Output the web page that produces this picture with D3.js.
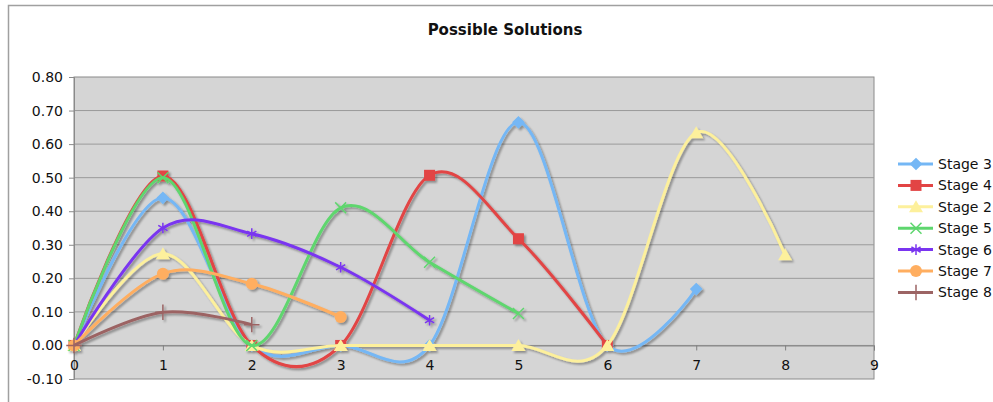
<!DOCTYPE html>
<html>
<head>
<meta charset="utf-8">
<script src="https://cdn.jsdelivr.net/npm/d3@7"></script>
<style>
 body { margin:0; background:#ffffff; }
 text { font-family:"DejaVu Sans", Verdana, sans-serif; fill:#111; }
</style>
</head>
<body>
<script>
 // chart data
 var title = "Possible Solutions";
 var yTicks = [-0.10, 0.00, 0.10, 0.20, 0.30, 0.40, 0.50, 0.60, 0.70, 0.80];
 var xTicks = [0, 1, 2, 3, 4, 5, 6, 7, 8, 9];

 var stage3 = [0, 0.44, 0, 0, 0, 0.665, 0, 0.168];
 var stage4 = [0, 0.505, 0, 0, 0.507, 0.318, 0];
 var stage2 = [0, 0.273, 0, 0, 0, 0, 0, 0.634, 0.27];
 var stage5 = [0, 0.50, 0, 0.41, 0.248, 0.095];
 var stage6 = [0, 0.35, 0.333, 0.233, 0.075];
 var stage7 = [0, 0.214, 0.184, 0.085];
 var stage8 = [0, 0.099, 0.062];

 var series = [
   {name:"Stage 3", values:stage3, color:"#74b7f5", marker:"diamond"},
   {name:"Stage 4", values:stage4, color:"#e24444", marker:"square"},
   {name:"Stage 2", values:stage2, color:"#fdf09c", marker:"triangle"},
   {name:"Stage 5", values:stage5, color:"#5ed66e", marker:"x"},
   {name:"Stage 6", values:stage6, color:"#7a35f0", marker:"asterisk"},
   {name:"Stage 7", values:stage7, color:"#ffae60", marker:"circle"},
   {name:"Stage 8", values:stage8, color:"#9c6464", marker:"plus"}
 ];

 var W = 993, H = 402;
 var plotL = 74, plotR = 874, plotT = 77, plotB = 379;

 var svg = d3.select("body").append("svg")
             .attr("width", W)
             .attr("height", H);

 // soft grey drop shadow like the original lines
 var f = svg.append("defs").append("filter")
     .attr("id", "shadow")
     .attr("x", "-10%").attr("y", "-10%")
     .attr("width", "130%").attr("height", "130%");
 f.append("feGaussianBlur").attr("in", "SourceAlpha").attr("stdDeviation", 1).attr("result", "b");
 f.append("feOffset").attr("in", "b").attr("dx", 1.5).attr("dy", 2).attr("result", "o");
 f.append("feComponentTransfer").attr("in", "o").attr("result", "s")
   .append("feFuncA").attr("type", "linear").attr("slope", 0.35);
 var m = f.append("feMerge");
 m.append("feMergeNode").attr("in", "s");
 m.append("feMergeNode").attr("in", "SourceGraphic");

 // outer chart border (left and top)
 svg.append("path")
    .attr("d", "M8.5," + H + "V5.5H" + W)
    .attr("fill", "none")
    .attr("stroke", "#a0a0a0")
    .attr("stroke-width", 1.5);

 var x = d3.scaleLinear().domain([0, 9]).range([plotL, plotR]);
 var y = d3.scaleLinear().domain([-0.10, 0.80]).range([plotB, plotT]);

 // plot area
 svg.append("rect")
    .attr("x", plotL).attr("y", plotT)
    .attr("width", plotR - plotL).attr("height", plotB - plotT)
    .attr("fill", "#d5d5d5")
    .attr("stroke", "#8a8a8a")
    .attr("stroke-width", 1);

 // gridlines
 svg.append("g").selectAll("line")
    .data(yTicks.slice(1, -1))
    .enter().append("line")
    .attr("x1", plotL).attr("x2", plotR)
    .attr("y1", function(d) { return y(d); })
    .attr("y2", function(d) { return y(d); })
    .attr("stroke", "#9a9a9a")
    .attr("stroke-width", 1);

 // y axis (plain hyphen for the negative label, like the original)
 var yAxis = svg.append("g")
    .attr("transform", "translate(" + plotL + ",0)")
    .call(d3.axisLeft(y).tickValues(yTicks)
          .tickFormat(function(d) { return d.toFixed(2); })
          .tickSize(5).tickPadding(6));
 yAxis.select(".domain").attr("stroke", "#8a8a8a");
 yAxis.selectAll(".tick line").attr("stroke", "#8a8a8a");
 yAxis.selectAll("text").style("font-size", "14px").attr("fill", "#111");

 // x axis crossing at zero
 var xAxis = svg.append("g")
    .attr("transform", "translate(0," + y(0) + ")")
    .call(d3.axisBottom(x).tickValues(xTicks).tickSize(5).tickPadding(10));
 xAxis.select(".domain").attr("stroke", "#808080");
 xAxis.selectAll(".tick line").attr("stroke", "#808080");
 xAxis.selectAll("text").style("font-size", "14px").attr("fill", "#111");

 var line = d3.line()
     .x(function(d, i) { return x(i); })
     .y(function(d) { return y(d); })
     .curve(d3.curveCatmullRom.alpha(0));

 function marker(g, type, color) {
   if (type == "diamond") {
     g.append("rect").attr("x", -4.5).attr("y", -4.5).attr("width", 9).attr("height", 9)
      .attr("transform", "rotate(45)").attr("fill", color);
   } else if (type == "square") {
     g.append("rect").attr("x", -5.5).attr("y", -5.5).attr("width", 11).attr("height", 11)
      .attr("fill", color);
   } else if (type == "triangle") {
     g.append("path").attr("d", "M0,-6.5L7,5.5L-7,5.5Z").attr("fill", color);
   } else if (type == "circle") {
     g.append("circle").attr("r", 6).attr("fill", color);
   } else {
     var sym = type == "x" ? d3.symbolTimes : type == "plus" ? d3.symbolPlus : d3.symbolAsterisk;
     g.append("path").attr("d", d3.symbol().type(sym).size(80)())
      .attr("fill", "none").attr("stroke", color).attr("stroke-width", 1.5);
   }
 }

 var plot = svg.append("g").attr("filter", "url(#shadow)");

 series.forEach(function(s) {
   var g = plot.append("g");
   g.append("path")
    .datum(s.values)
    .attr("d", line)
    .attr("fill", "none")
    .attr("stroke", s.color)
    .attr("stroke-width", 3);
   g.selectAll("g.pt")
    .data(s.values)
    .enter().append("g")
    .attr("class", "pt")
    .attr("transform", function(d, i) { return "translate(" + x(i) + "," + y(d) + ")"; })
    .each(function() { marker(d3.select(this), s.marker, s.color); });
 });

 // title
 svg.append("text")
    .attr("x", 505).attr("y", 35)
    .attr("text-anchor", "middle")
    .style("font-size", "15px")
    .style("font-weight", "bold")
    .text(title);

 // legend
 var legend = svg.append("g").selectAll("g")
    .data(series)
    .enter().append("g")
    .attr("transform", function(d, i) { return "translate(898," + (164 + i * 21.4) + ")"; });
 legend.append("line")
    .attr("x1", 0).attr("x2", 35)
    .attr("stroke", function(d) { return d.color; })
    .attr("stroke-width", 3);
 legend.append("g")
    .attr("transform", "translate(18,0)")
    .each(function(d) { marker(d3.select(this), d.marker, d.color); });
 legend.append("text")
    .attr("x", 40).attr("dy", "0.35em")
    .style("font-size", "14px")
    .text(function(d) { return d.name; });
</script>
</body>
</html>
